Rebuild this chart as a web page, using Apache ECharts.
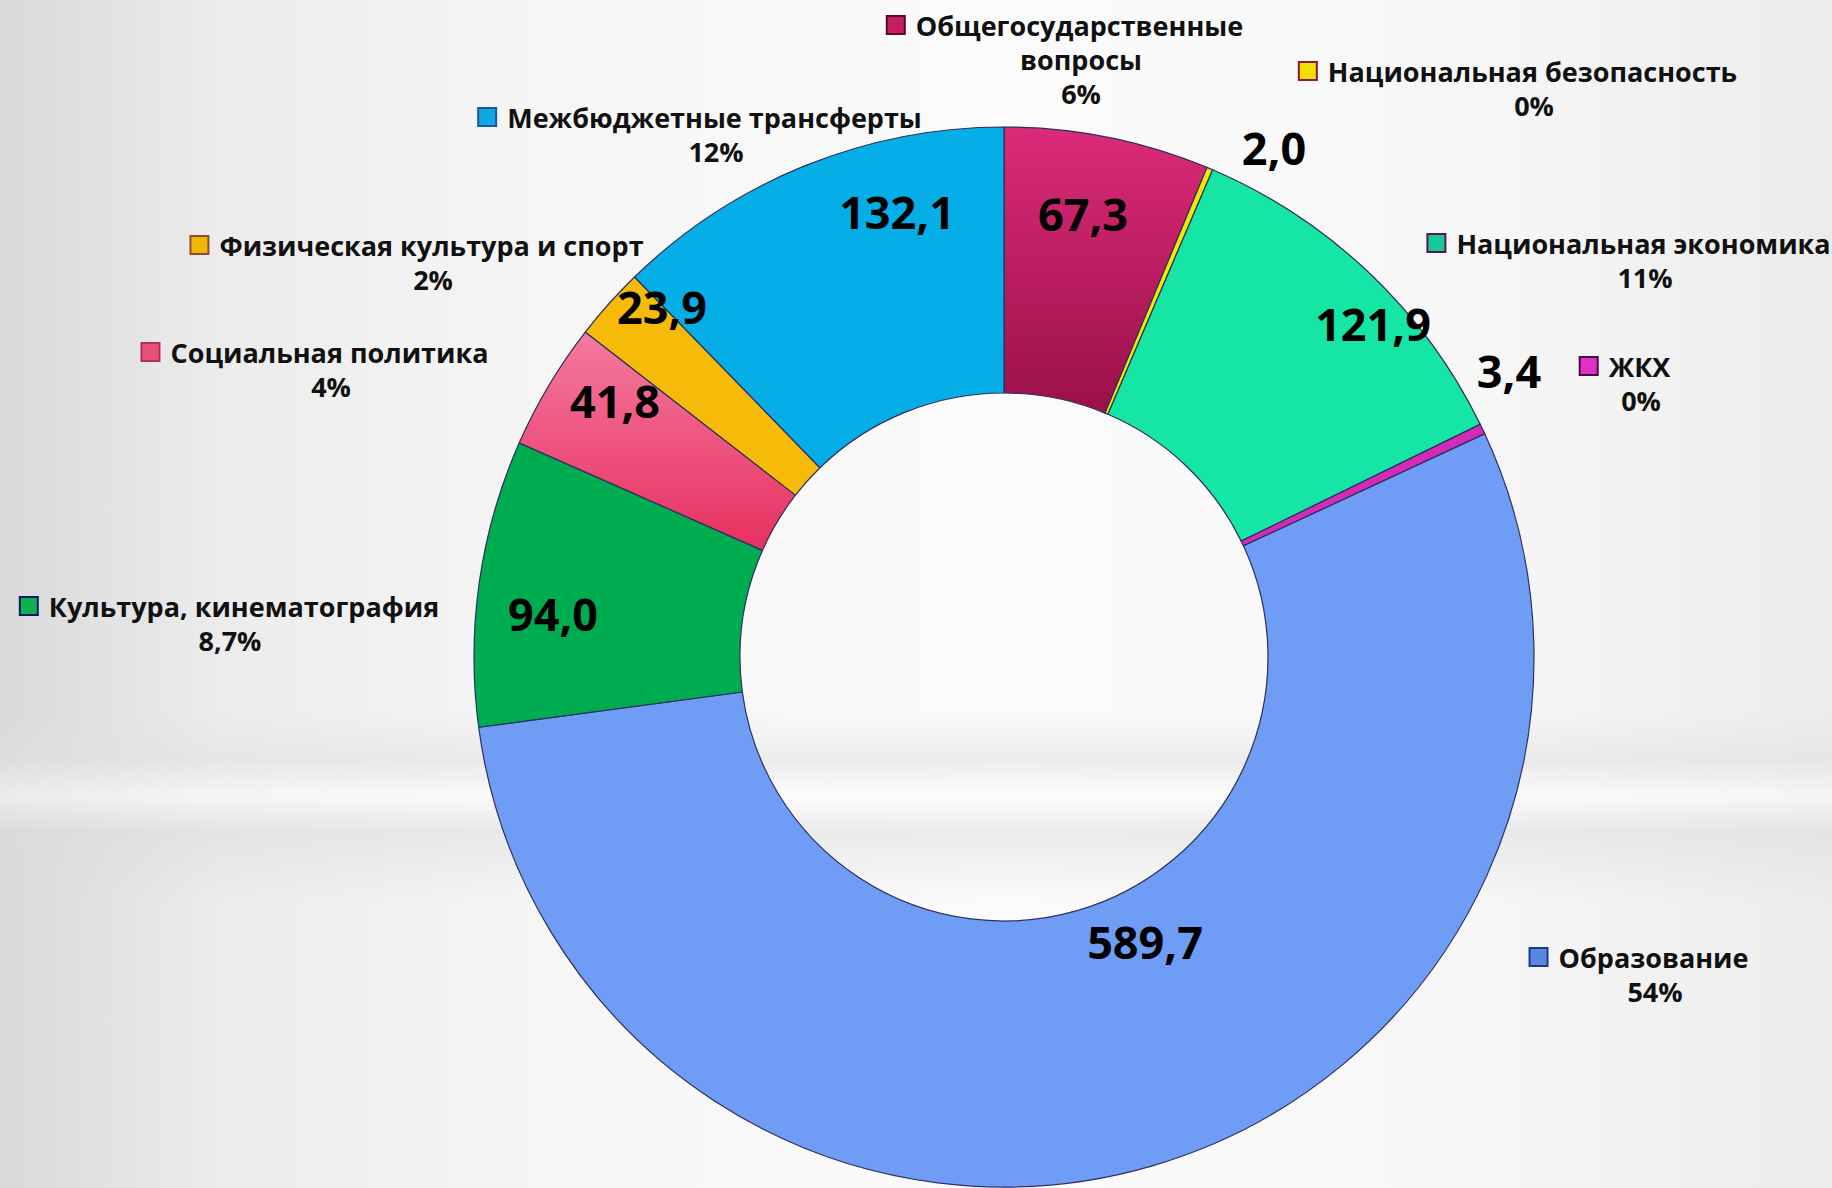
<!DOCTYPE html>
<html>
<head>
<meta charset="utf-8">
<script src="https://cdn.jsdelivr.net/npm/echarts@6/dist/echarts.min.js"></script>
<style>
  html, body { margin: 0; padding: 0; width: 1832px; height: 1188px; overflow: hidden; }
  body {
    background:
      linear-gradient(to bottom, rgba(255,255,255,0) 0%, rgba(255,255,255,0) 60%, rgba(225,225,225,0.55) 64%, rgba(255,255,255,0.5) 67%, rgba(220,220,220,0.5) 70%, rgba(255,255,255,0) 76%, rgba(255,255,255,0) 100%),
      linear-gradient(to right, #d9d9d9 0%, #ececec 12%, #f6f6f6 30%, #fbfbfb 55%, #f7f7f7 80%, #ececec 100%);
  }
  #chart { width: 1832px; height: 1188px; }
</style>
</head>
<body>
<div id="chart"></div>
<script>
// ---- data ----
const categories = [
  'Общегосударственные\nвопросы',
  'Национальная безопасность',
  'Национальная экономика',
  'ЖКХ',
  'Образование',
  'Культура, кинематография',
  'Социальная политика',
  'Физическая культура и спорт',
  'Межбюджетные трансферты'
];
const values = [67.3, 2.0, 121.9, 3.4, 589.7, 94.0, 41.8, 23.9, 132.1];
const percentLabels = ['6%', '0%', '11%', '0%', '54%', '8,7%', '4%', '2%', '12%'];

// ---- styles / layout ----
const sliceColors = [
  {type:'linear', x:0, y:0, x2:0, y2:1, colorStops:[{offset:0,color:'#dc2a78'},{offset:1,color:'#9a1149'}]},
  '#f5e800',
  '#15e6a6',
  '#d42ab8',
  '#6f9cf4',
  '#00ac50',
  {type:'linear', x:0, y:0, x2:0, y2:1, colorStops:[{offset:0,color:'#f47aa0'},{offset:1,color:'#e8305f'}]},
  '#f6bb08',
  '#06aee8'
];
const markerFill = ['#c41f62', '#f0e000', '#18c89a', '#e030c8', '#5a86e0', '#10b050', '#e8507a', '#f0b800', '#10a8e0'];
const markerBorder = ['#5a0a2a', '#8b1a3a', '#5a1550', '#4a0a40', '#1a3a8a', '#0a1a6a', '#b03060', '#8b4a3a', '#1a5a9a'];
const valuePos = [[1083,213],[1274,147],[1373,323],[1509,370],[1145,941],[553,613],[615,400],[662,306],[897,211]];
const namePos  = [[1081,25],[1534,71],[1645,243],[1641,366],[1655,957],[230,606],[331,352],[433,245],[716,117]];

const FONT = '"Open Sans", "DejaVu Sans", sans-serif';
const LINE_H = 34;

const rich = {
  t: { fontFamily: FONT, fontSize: 27, fontWeight: 'bold', color: '#111', lineHeight: LINE_H },
  g: { width: 12, height: 18 },
  s: { width: 31, height: 18 }
};
markerFill.forEach((c, i) => {
  rich['m' + i] = { width: 16, height: 16, backgroundColor: c, borderColor: markerBorder[i], borderWidth: 2 };
});

const pieData = categories.map((n, i) => ({
  name: n,
  value: values[i],
  itemStyle: { color: sliceColors[i] }
}));

const chart = echarts.init(document.getElementById('chart'), null, { renderer: 'svg' });
chart.setOption({
  backgroundColor: 'transparent',
  animation: false,
  series: [
    {
      type: 'pie',
      center: [1004, 657],
      radius: [264, 530],
      startAngle: 90,
      clockwise: true,
      silent: true,
      data: pieData,
      itemStyle: { borderColor: '#2b2f5e', borderWidth: 1.2 },
      label: {
        show: true,
        position: 'inside',
        fontFamily: FONT,
        fontSize: 45,
        fontWeight: 'bold',
        color: '#000',
        formatter: p => values[p.dataIndex].toFixed(1).replace('.', ',')
      },
      labelLine: { show: false },
      labelLayout: p => ({
        x: valuePos[p.dataIndex][0],
        y: valuePos[p.dataIndex][1],
        align: 'center',
        verticalAlign: 'middle'
      }),
      emphasis: { disabled: true }
    },
    {
      type: 'pie',
      center: [1004, 657],
      radius: [264, 530],
      startAngle: 90,
      clockwise: true,
      silent: true,
      data: categories.map((n, i) => ({ name: n, value: values[i] })),
      itemStyle: { color: 'rgba(0,0,0,0)', borderWidth: 0 },
      label: {
        show: true,
        position: 'outside',
        rich: rich,
        formatter: p => {
          const i = p.dataIndex;
          const lines = categories[i].split('\n');
          let s = '{m' + i + '|}{g|}{t|' + lines[0] + '}{s|}';
          for (let k = 1; k < lines.length; k++) s += '\n{t|' + lines[k] + '}';
          s += '\n{t|' + percentLabels[i] + '}';
          return s;
        }
      },
      labelLine: { show: false },
      labelLayout: p => ({
        x: namePos[p.dataIndex][0],
        y: namePos[p.dataIndex][1] - LINE_H / 2,
        align: 'center',
        verticalAlign: 'top'
      }),
      emphasis: { disabled: true }
    }
  ]
});
</script>
</body>
</html>
